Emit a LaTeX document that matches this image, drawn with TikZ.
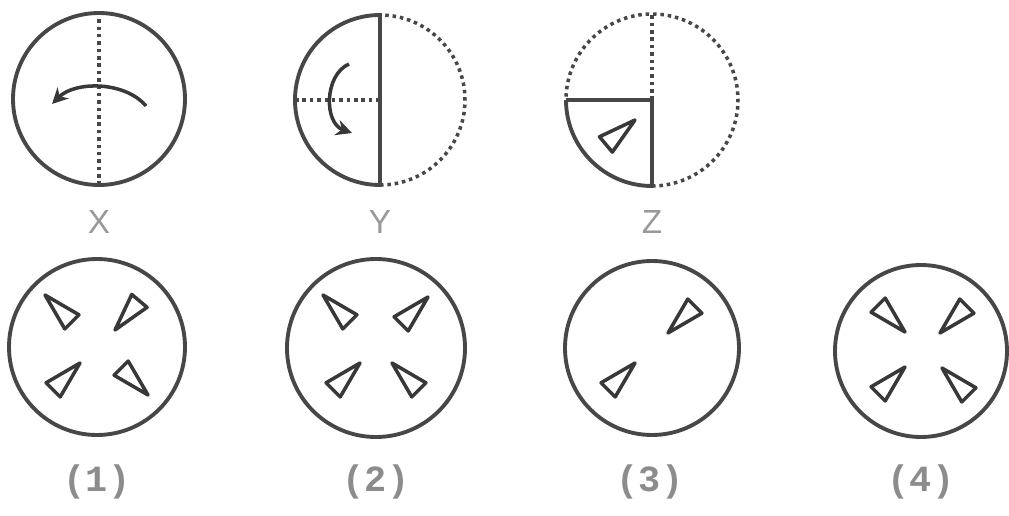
\documentclass[tikz,border=0pt]{standalone}
\usepackage{fontspec}
\setmainfont{Liberation Sans}
\newfontfamily\labelfont{Liberation Mono}
\usepackage{tikz}
\usetikzlibrary{arrows.meta}
\tikzset{
    rim/.style={line width=2.2pt, draw=black!72},
    fold/.style={line width=2pt, draw=black!72, dash pattern=on 2pt off 2.2pt},
    turn/.style={line width=2pt, draw=black!78, -{Stealth[length=9pt, width=9pt]}},
    tag/.style={text=black!40, font=\fontsize{19}{19}\selectfont},
    option/.style={text=black!45, font=\labelfont\bfseries\fontsize{21}{21}\selectfont},
    notch/.pic={\draw[line width=2pt, draw=black!78, line join=round] (0,0) -- (38,10) -- (38,-10) -- cycle;}
}

\begin{document}
\begin{tikzpicture}[x=0.02cm, y=0.02cm]
    \useasboundingbox (0,0) rectangle (1009,515);

    % X
    \draw[rim] (99,416) circle[radius=86];
    \draw[fold] (99,330) -- (99,502);
    \coordinate (xs) at (146,409);
    \coordinate (xe) at (52,411);
    \draw[turn] (xs) .. controls (125,434) and (75,434) .. (xe);
    \node[tag] (lx) at (99,293) {X};

    % Y
    \draw[rim] (380,500) arc[start angle=90, end angle=270, radius=85] -- cycle;
    \draw[fold] (380,330) arc[start angle=-90, end angle=90, radius=85];
    \draw[fold] (295,415) -- (380,415);
    \coordinate (ys) at (349,451);
    \coordinate (ye) at (352,382);
    \draw[turn] (ys) .. controls (324,440) and (324,392) .. (ye);
    \node[tag] (ly) at (380,293) {Y};

    % Z
    \draw[rim] (566,415) -- (652,415) -- (652,329) arc[start angle=-90, end angle=-180, radius=86];
    \draw[fold] (652,329) arc[start angle=-90, end angle=180, radius=86];
    \draw[fold] (652,415) -- (652,501);
    \pic[rotate=220] at (635,395) {notch};
    \node[tag] (lz) at (652,293) {Z};

    % (1)
    \draw[rim] (97,168) circle[radius=88];
    \pic[rotate=315] at (45,220) {notch};
    \pic[rotate=50] at (115,185) {notch};
    \pic[rotate=225] at (80,152) {notch};
    \pic[rotate=135] at (148,120) {notch};
    \node[option] (l1) at (97,33) {(1)};

    % (2)
    \draw[rim] (376,167) circle[radius=89];
    \pic[rotate=315] at (323,220) {notch};
    \pic[rotate=225] at (428,218) {notch};
    \pic[rotate=225] at (360,152) {notch};
    \pic[rotate=315] at (392,152) {notch};
    \node[option] (l2) at (376,33) {(2)};

    % (3)
    \draw[rim] (652,167) circle[radius=87];
    \pic[rotate=45] at (668,182) {notch};
    \pic[rotate=225] at (635,152) {notch};
    \node[option] (l3) at (650,33) {(3)};

    % (4)
    \draw[rim] (921,164) circle[radius=86];
    \pic[rotate=135] at (905,183) {notch};
    \pic[rotate=45] at (940,182) {notch};
    \pic[rotate=225] at (905,148) {notch};
    \pic[rotate=315] at (942,147) {notch};
    \node[option] (l4) at (921,33) {(4)};

\end{tikzpicture}
\end{document}
